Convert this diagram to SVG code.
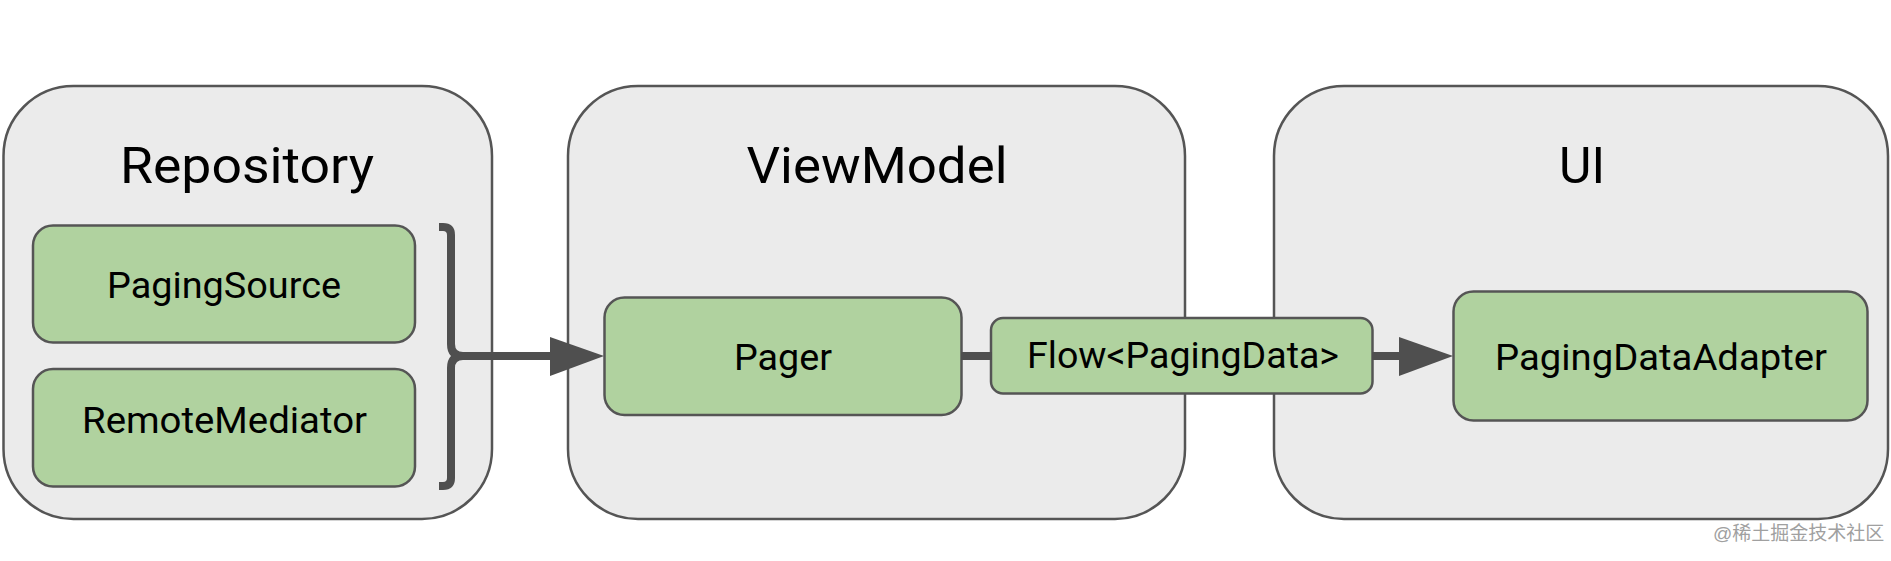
<svg xmlns="http://www.w3.org/2000/svg" width="1891" height="561" viewBox="0 0 1891 561">
<style>
.outer{fill:#ebebeb;stroke:#555555;stroke-width:2.5}
.inner{fill:#b0d29f;stroke:#555555;stroke-width:2.5}
.title{font-family:Roboto,"Liberation Sans",sans-serif;font-size:50px;fill:#000;text-anchor:middle}
.lbl{font-family:Roboto,"Liberation Sans",sans-serif;font-size:36px;fill:#000;text-anchor:middle}
.conn{fill:none;stroke:#4f4f4f;stroke-width:8}
.head{fill:#4f4f4f}
.wm{font-family:"Liberation Sans","Noto Sans CJK SC",sans-serif;font-size:19px;fill:#a0a0a0}
</style>
<rect width="1891" height="561" fill="#ffffff"/>
<g id="repository">
<rect class="outer" x="3.5" y="86" width="488.5" height="433" rx="70" ry="70"/>
<text class="title" x="247" y="183" textLength="254" lengthAdjust="spacingAndGlyphs">Repository</text>
</g>
<g id="viewmodel">
<rect class="outer" x="568" y="86" width="617" height="433" rx="70" ry="70"/>
<text class="title" x="877" y="183" textLength="261" lengthAdjust="spacingAndGlyphs">ViewModel</text>
</g>
<g id="ui">
<rect class="outer" x="1274" y="86" width="614" height="433" rx="70" ry="70"/>
<text class="title" x="1582" y="183" textLength="46" lengthAdjust="spacingAndGlyphs">UI</text>
</g>
<g id="pagingsource">
<rect class="inner" x="33" y="225.5" width="382" height="117" rx="20" ry="20"/>
<text class="lbl" x="224" y="298" textLength="234" lengthAdjust="spacingAndGlyphs">PagingSource</text>
</g>
<g id="remotemediator">
<rect class="inner" x="33" y="369" width="382" height="117.5" rx="20" ry="20"/>
<text class="lbl" x="224.5" y="433" textLength="285" lengthAdjust="spacingAndGlyphs">RemoteMediator</text>
</g>
<g id="pager">
<rect class="inner" x="604.5" y="297.5" width="357" height="117.5" rx="20" ry="20"/>
<text class="lbl" x="783" y="370" textLength="98" lengthAdjust="spacingAndGlyphs">Pager</text>
</g>
<g id="flow">
<rect class="inner" x="991" y="318" width="381.5" height="75.5" rx="12" ry="12"/>
<text class="lbl" x="1183" y="368" textLength="312" lengthAdjust="spacingAndGlyphs">Flow&lt;PagingData&gt;</text>
</g>
<g id="pagingdataadapter">
<rect class="inner" x="1453.5" y="291.5" width="414" height="129" rx="20" ry="20"/>
<text class="lbl" x="1661" y="370" textLength="332" lengthAdjust="spacingAndGlyphs">PagingDataAdapter</text>
</g>
<g id="connectors">
<path class="conn" d="M439 227 H443 Q451 227 451 235 V344 Q451 356 463 356 Q451 356 451 368 V478 Q451 486 443 486 H439"/>
<path class="conn" d="M455 356 H552"/>
<polygon class="head" points="550,337 604,356 550,376"/>
<path class="conn" d="M961 356 H992"/>
<path class="conn" d="M1372 356 H1401"/>
<polygon class="head" points="1399,337 1453,356 1399,376"/>
</g>
<text class="wm" x="1713" y="540">@稀土掘金技术社区</text>
</svg>
